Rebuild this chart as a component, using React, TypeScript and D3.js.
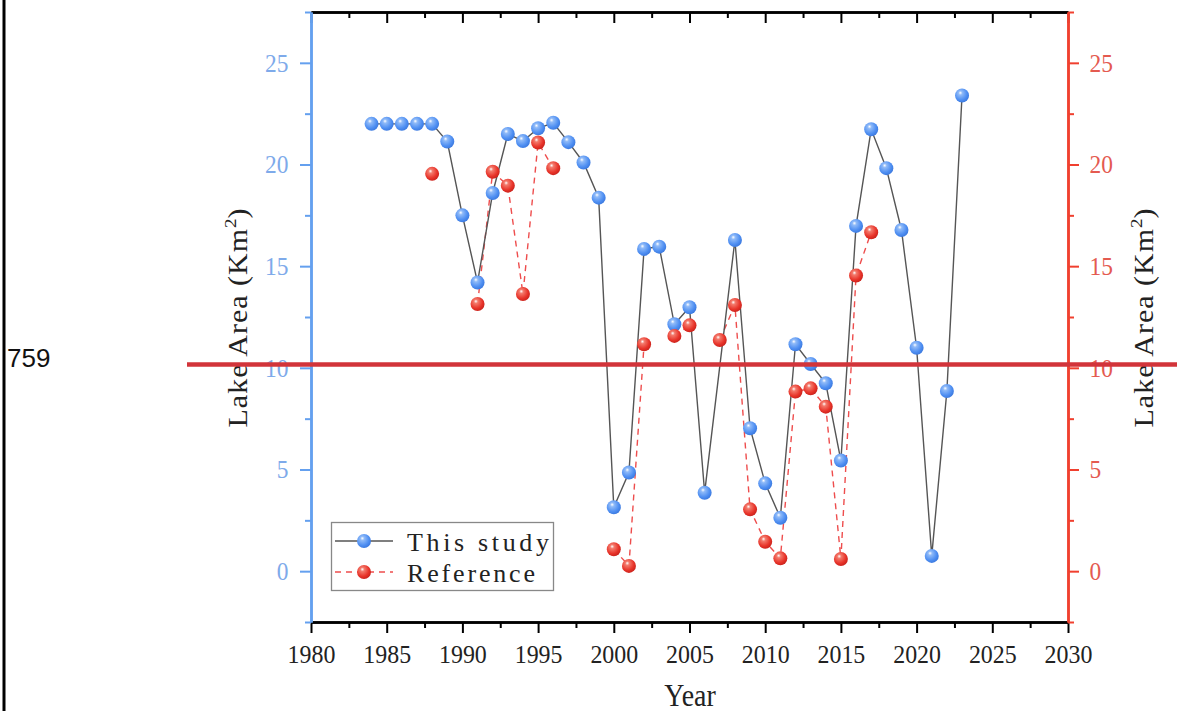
import React, { useEffect, useRef } from 'react';
import * as d3 from 'd3';

const studyYears = [1984, 1985, 1986, 1987, 1988, 1989, 1990, 1991, 1992, 1993, 1994, 1995, 1996, 1997, 1998, 1999, 2000, 2001, 2002, 2003, 2004, 2005, 2006, 2008, 2009, 2010, 2011, 2012, 2013, 2014, 2015, 2016, 2017, 2018, 2019, 2020, 2021, 2022, 2023];
const studyValues = [22.0, 22.0, 22.0, 22.0, 22.0, 21.13, 17.5, 14.2, 18.6, 21.5, 21.15, 21.78, 22.05, 21.1, 20.1, 18.37, 3.14, 4.85, 15.85, 15.96, 12.14, 12.98, 3.86, 16.29, 7.03, 4.32, 2.63, 11.16, 10.19, 9.24, 5.44, 16.98, 21.73, 19.82, 16.78, 10.99, 0.75, 8.86, 23.39];

const refYears = [1988, 1989, 1990, 1991, 1992, 1993, 1994, 1995, 1996, 1997, 1998, 1999, 2000, 2001, 2002, 2003, 2004, 2005, 2006, 2007, 2008, 2009, 2010, 2011, 2012, 2013, 2014, 2015, 2016, 2017];
const refValues: (number | null)[] = [19.54, null, null, 13.14, 19.64, 18.96, 13.63, 21.08, 19.82, null, null, null, 1.08, 0.26, 11.16, null, 11.57, 12.09, null, 11.37, 13.09, 3.04, 1.45, 0.63, 8.83, 8.99, 8.09, 0.6, 14.54, 16.67];

const xTicks = [1980, 1985, 1990, 1995, 2000, 2005, 2010, 2015, 2020, 2025, 2030];
const yTicks = [0, 5, 10, 15, 20, 25];
const legendLabels = ['This study', 'Reference'];

const W = 1177;
const H = 711;

export default function App() {
  const ref = useRef<SVGSVGElement>(null);

  useEffect(() => {
    const svg = d3.select(ref.current);
    svg.selectAll('*').remove();

    const x = d3.scaleLinear().domain([1980, 2030]).range([311, 1068]);
    const y = d3.scaleLinear().domain([-2.5, 27.5]).range([622, 12]);
    const yR = d3.scaleLinear().domain([-2.5, 27.5]).range([622, 12]);

    const blueAxis = '#64a0ef';
    const blueText = '#7eaaea';
    const redAxis = '#f0402f';
    const redText = '#e45a50';
    const serif = '"Liberation Serif", "DejaVu Serif", serif';

    const defs = svg.append('defs');
    const mkGrad = (id: string, c0: string, c1: string, c2: string) => {
      const g = defs.append('radialGradient').attr('id', id).attr('cx', '40%').attr('cy', '38%').attr('r', '65%').attr('fx', '38%').attr('fy', '30%');
      g.append('stop').attr('offset', '0%').attr('stop-color', '#ffffff');
      g.append('stop').attr('offset', '22%').attr('stop-color', c0);
      g.append('stop').attr('offset', '70%').attr('stop-color', c1);
      g.append('stop').attr('offset', '100%').attr('stop-color', c2);
    };
    mkGrad('gBlue', '#8fbaf8', '#4f8ff2', '#3a78de');
    mkGrad('gRed', '#f37a6c', '#e8342a', '#c9221c');

    // left border line
    svg.append('line').attr('x1', 4).attr('x2', 4).attr('y1', 0).attr('y2', H).attr('stroke', '#000').attr('stroke-width', 3);

    const minorX = d3.range(1982.5, 2030, 5);
    const minorY = d3.range(-2.5, 27.6, 5);

    // bottom axis
    const gB = svg.append('g').attr('transform', 'translate(0,622)');
    gB.call(d3.axisBottom(x).tickValues(xTicks).tickFormat(d3.format('d')).tickSize(11).tickSizeOuter(0));
    gB.append('g').call(d3.axisBottom(x).tickValues(minorX).tickFormat(() => '').tickSize(6).tickSizeOuter(0));
    gB.selectAll('.domain').attr('stroke', '#000').attr('stroke-width', 2.5);
    gB.selectAll('.tick line').attr('stroke', '#000').attr('stroke-width', 2);
    gB.selectAll('.tick text').attr('font-family', serif).attr('font-size', 26).attr('fill', '#222')
      .attr('y', 23).attr('transform', 'scale(0.92,1)');

    // top axis (ticks inward)
    const gT = svg.append('g').attr('transform', 'translate(0,12)');
    gT.call(d3.axisBottom(x).tickValues(xTicks).tickFormat(() => '').tickSize(11).tickSizeOuter(0));
    gT.append('g').call(d3.axisBottom(x).tickValues(minorX).tickFormat(() => '').tickSize(6).tickSizeOuter(0));
    gT.selectAll('.domain').attr('stroke', '#000').attr('stroke-width', 2.5);
    gT.selectAll('.tick line').attr('stroke', '#000').attr('stroke-width', 2);

    // left axis
    const gL = svg.append('g').attr('transform', 'translate(311,0)');
    gL.call(d3.axisLeft(y).tickValues(yTicks).tickFormat(d3.format('d')).tickSize(11).tickSizeOuter(0));
    gL.append('g').call(d3.axisLeft(y).tickValues(minorY).tickFormat(() => '').tickSize(6).tickSizeOuter(0));
    gL.selectAll('.domain').attr('stroke', blueAxis).attr('stroke-width', 2.5);
    gL.selectAll('.tick line').attr('stroke', blueAxis).attr('stroke-width', 2);
    gL.selectAll('.tick text').attr('font-family', serif).attr('font-size', 26).attr('fill', blueText)
      .attr('x', -25).attr('transform', 'scale(0.9,1)');

    // right axis
    const gR = svg.append('g').attr('transform', 'translate(1068,0)');
    gR.call(d3.axisRight(yR).tickValues(yTicks).tickFormat(d3.format('d')).tickSize(11).tickSizeOuter(0));
    gR.append('g').call(d3.axisRight(yR).tickValues(minorY).tickFormat(() => '').tickSize(6).tickSizeOuter(0));
    gR.selectAll('.domain').attr('stroke', redAxis).attr('stroke-width', 2.5);
    gR.selectAll('.tick line').attr('stroke', redAxis).attr('stroke-width', 2);
    gR.selectAll('.tick text').attr('font-family', serif).attr('font-size', 26).attr('fill', redText)
      .attr('x', 24).attr('transform', 'scale(0.9,1)');

    // axis titles
    const yTitle = (cx: number) => {
      const t = svg.append('text')
        .attr('transform', `translate(${cx},318) rotate(-90) scale(1,0.92)`)
        .attr('text-anchor', 'middle')
        .attr('font-family', serif).attr('font-size', 30).attr('fill', '#222');
      t.append('tspan').attr('letter-spacing', 1).text('Lake Area (Km');
      t.append('tspan').attr('font-size', 19).attr('dy', -12).text('2');
      t.append('tspan').attr('dy', 12).text(')');
    };
    yTitle(247);
    yTitle(1153);

    svg.append('text').attr('x', 690).attr('y', 706).attr('text-anchor', 'middle')
      .attr('transform', 'translate(690,0) scale(0.9,1) translate(-690,0)')
      .attr('font-family', serif).attr('font-size', 31).attr('fill', '#222').text('Year');

    // reference series (dashed, gaps)
    const refData = refYears.map((yr, i) => ({ yr, v: refValues[i] }));
    const lineRef = d3.line<{ yr: number; v: number | null }>()
      .defined(d => d.v !== null)
      .x(d => x(d.yr)).y(d => yR(d.v as number));
    svg.append('path').datum(refData).attr('d', lineRef).attr('fill', 'none')
      .attr('stroke', '#ee4d4d').attr('stroke-width', 1.4).attr('stroke-dasharray', '6,5');

    // study series
    const studyData = studyYears.map((yr, i) => ({ yr, v: studyValues[i] }));
    const lineStudy = d3.line<{ yr: number; v: number }>().x(d => x(d.yr)).y(d => y(d.v));
    svg.append('path').datum(studyData).attr('d', lineStudy).attr('fill', 'none')
      .attr('stroke', '#555').attr('stroke-width', 1.4);

    svg.append('g').selectAll('circle').data(studyData).join('circle')
      .attr('cx', d => x(d.yr)).attr('cy', d => y(d.v)).attr('r', 7).attr('fill', 'url(#gBlue)');

    svg.append('g').selectAll('circle').data(refData.filter(d => d.v !== null)).join('circle')
      .attr('cx', d => x(d.yr)).attr('cy', d => yR(d.v as number)).attr('r', 7).attr('fill', 'url(#gRed)');

    // legend
    const lg = svg.append('g');
    lg.append('rect').attr('x', 331.5).attr('y', 522.5).attr('width', 222).attr('height', 68)
      .attr('fill', '#fff').attr('stroke', '#888').attr('stroke-width', 1.3);
    lg.append('line').attr('x1', 335).attr('x2', 393).attr('y1', 541).attr('y2', 541).attr('stroke', '#555').attr('stroke-width', 1.4);
    lg.append('circle').attr('cx', 364).attr('cy', 541).attr('r', 7).attr('fill', 'url(#gBlue)');
    lg.append('line').attr('x1', 335).attr('x2', 393).attr('y1', 572).attr('y2', 572).attr('stroke', '#ee4d4d').attr('stroke-width', 1.4).attr('stroke-dasharray', '6,5');
    lg.append('circle').attr('cx', 364).attr('cy', 572).attr('r', 7).attr('fill', 'url(#gRed)');
    lg.selectAll('text.lab').data(legendLabels).join('text').attr('class', 'lab')
      .attr('x', 407).attr('y', (_, i) => 551 + i * 31)
      .attr('font-family', serif).attr('font-size', 26).attr('fill', '#222')
      .attr('textLength', (_, i) => (i === 0 ? 142 : 128)).attr('lengthAdjust', 'spacing')
      .text(d => d);

    // annotation overlay
    svg.append('line').attr('x1', 187).attr('x2', W).attr('y1', 364.5).attr('y2', 364.5)
      .attr('stroke', '#d2343a').attr('stroke-width', 4.5);
    svg.append('text').attr('x', 7).attr('y', 367).attr('font-family', '"Liberation Sans", Arial, sans-serif')
      .attr('font-size', 26).attr('fill', '#111').text('759');
  }, []);

  return (
    <svg ref={ref} width={W} height={H} style={{ position: 'absolute', left: 0, top: 0, background: '#fff' }} />
  );
}
